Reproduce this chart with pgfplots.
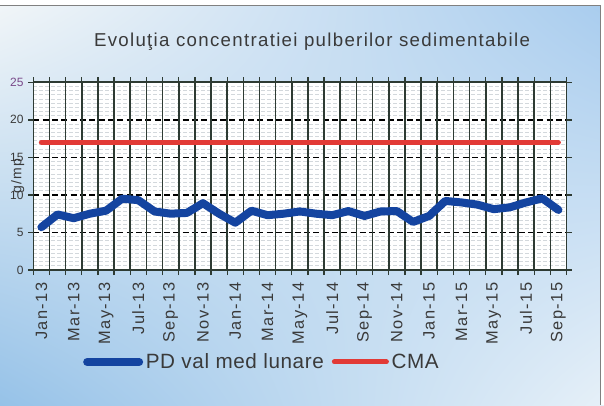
\documentclass[border=0pt]{standalone}
\usepackage{fontspec}
\setmainfont{Liberation Sans}
\newfontfamily\lsfont[LetterSpace=9]{Liberation Sans}
\newfontfamily\titlefont[LetterSpace=7]{Liberation Sans}
\newfontfamily\legfont[LetterSpace=3]{Liberation Sans}
\usepackage{pgfplots}
\pgfplotsset{compat=1.18}
\usetikzlibrary{shadings}
\definecolor{txt}{HTML}{3A3A3A}
\definecolor{gridc}{HTML}{2E3B33}
\definecolor{pdblue}{HTML}{1444A0}
\definecolor{cmared}{HTML}{E23A36}
\definecolor{minorc}{HTML}{D3D8DC}
\definecolor{bgUL}{HTML}{F2F6F8}
\definecolor{bgUR}{HTML}{A8CCEE}
\definecolor{bgLL}{HTML}{96C2E8}
\definecolor{bgLR}{HTML}{E6F0F8}
\definecolor{purp}{HTML}{7A4A8A}
\begin{document}
\begin{tikzpicture}
\useasboundingbox (0pt,0pt) rectangle (453pt,303.75pt);
\shade[upper left=bgUL, upper right=bgUR, lower left=bgLL, lower right=bgLR] (0pt,0pt) rectangle (453pt,303.75pt);
\fill[white] (450pt,0pt) rectangle (453pt,303.75pt);
\fill[white] (0pt,300pt) rectangle (453pt,303.75pt);
\draw[gray, line width=0.6pt] (0pt,300pt) -- (450pt,300pt) -- (450pt,0pt);
\node[text=txt, font=\titlefont\fontsize{14}{16}\selectfont] at (234pt,272.7pt) {Evoluţia concentratiei pulberilor sedimentabile};
\begin{axis}[
  at={(24.98pt,101.25pt)}, anchor=south west,
  scale only axis, width=399.9pt, height=140.78pt,
  xmin=-0.5, xmax=32.5, ymin=0, ymax=25,
  axis background/.style={fill=white},
  xtick={0,2,...,32},
  xticklabels={Jan-13,Mar-13,May-13,Jul-13,Sep-13,Nov-13,Jan-14,Mar-14,May-14,Jul-14,Sep-14,Nov-14,Jan-15,Mar-15,May-15,Jul-15,Sep-15},
  xtick style={draw=none},
  xticklabel style={yshift=-2pt, rotate=90, anchor=east, font=\lsfont\fontsize{12.3}{13}\selectfont, text=txt},
  extra x ticks={-0.5,0.5,...,32.5},
  extra x tick labels={},
  extra x tick style={grid=major, xtick style={draw=gridc, line width=1pt},
    major grid style={gridc, solid, line width=1.2pt}},
  ytick={0,5,...,25},
  yticklabels={0,5,10,15,20,\textcolor{purp}{25}},
  minor y tick num=8,
  tick align=outside, major tick length=3.75pt, minor tick length=0pt,
  ytick style={gridc, line width=1pt},
  axis line style={gridc, line width=1.2pt},
  ymajorgrids, yminorgrids,
  major grid style={black, line width=1.2pt, dash pattern=on 4.5pt off 2.5pt},
  minor grid style={minorc, line width=0.6pt, dash pattern=on 3pt off 1.5pt},
  yticklabel style={font=\fontsize{9}{10}\selectfont, text=txt},
  /pgf/number format/assume math mode=true,
  ylabel={g/mp},
  ylabel style={at={(axis description cs:-0.029,0.5)}, anchor=center, font=\lsfont\fontsize{10.5}{11}\selectfont, text=txt},
  legend columns=2,
  legend style={at={(axis description cs:0.093,-0.49)}, anchor=west, draw=none, fill=none, inner sep=0pt,
    font=\legfont\fontsize{15.5}{17}\selectfont, text=txt,
    /tikz/every even column/.append style={column sep=4pt}},
  legend image code/.code={\draw[#1, line cap=round] (0pt,0pt) -- (39pt,0pt);},
]
\addplot[pdblue, line width=6pt, line join=round, line cap=round] coordinates {
(0,5.7) (1,7.4) (2,6.9) (3,7.5) (4,7.9) (5,9.5) (6,9.3) (7,7.8) (8,7.5) (9,7.6) (10,8.9) (11,7.5)
(12,6.3) (13,7.9) (14,7.3) (15,7.5) (16,7.8) (17,7.5) (18,7.3) (19,7.85) (20,7.2) (21,7.8) (22,7.85) (23,6.4)
(24,7.2) (25,9.2) (26,9.0) (27,8.7) (28,8.1) (29,8.35) (30,9.0) (31,9.55) (32,8.0)};
\addlegendentry{PD val med lunare}
\addplot[cmared, line width=3.75pt, line cap=round] coordinates {
(0,17) (1,17) (2,17) (3,17) (4,17) (5,17) (6,17) (7,17) (8,17) (9,17) (10,17) (11,17)
(12,17) (13,17) (14,17) (15,17) (16,17) (17,17) (18,17) (19,17) (20,17) (21,17) (22,17) (23,17)
(24,17) (25,17) (26,17) (27,17) (28,17) (29,17) (30,17) (31,17) (32,17)};
\addlegendentry{CMA}
\end{axis}
\end{tikzpicture}
\end{document}
